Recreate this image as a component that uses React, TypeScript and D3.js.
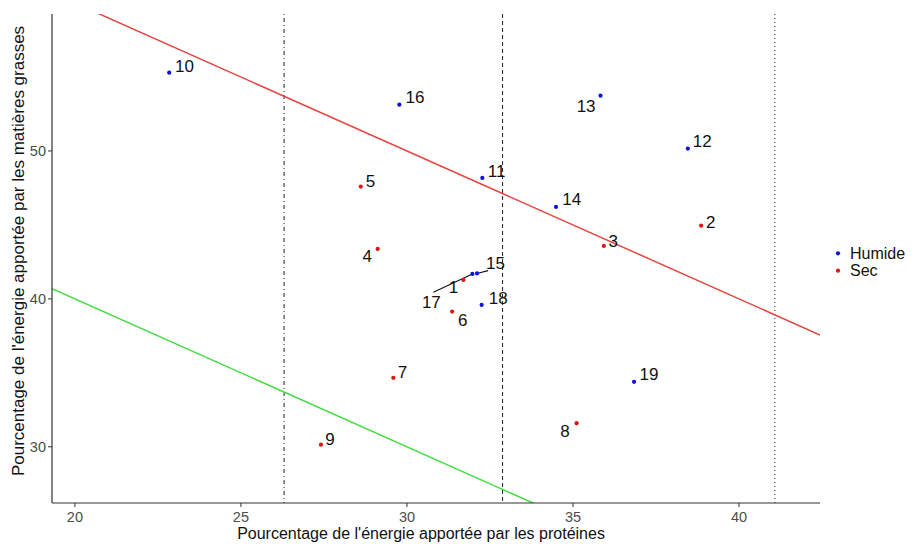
import React from 'react';
import * as d3 from 'd3';

// ---- data ----
const ids = [1, 2, 3, 4, 5, 6, 7, 8, 9, 10, 11, 12, 13, 14, 15, 16, 17, 18, 19];
const groups = ['Sec', 'Sec', 'Sec', 'Sec', 'Sec', 'Sec', 'Sec', 'Sec', 'Sec',
  'Humide', 'Humide', 'Humide', 'Humide', 'Humide', 'Humide', 'Humide', 'Humide', 'Humide', 'Humide'];
const proteines = [31.70, 38.86, 35.93, 29.12, 28.61, 31.36, 29.59, 35.11, 27.41,
  22.84, 32.27, 38.46, 35.83, 34.49, 32.11, 29.77, 31.97, 32.25, 36.84];
const matieresGrasses = [41.28, 44.95, 43.58, 43.38, 47.59, 39.14, 34.66, 31.60, 30.14,
  55.29, 48.18, 50.16, 53.74, 46.22, 41.72, 53.13, 41.69, 39.59, 34.39];

const xTicks = [20, 25, 30, 35, 40];
const yTicks = [30, 40, 50];
const xDomain = [19.31, 42.44];
const yDomain = [26.2, 59.26];

const vlineValues = [26.3, 32.88, 41.08];
const vlineTypes = ['dotdash', 'dashed', 'dotted'];
const ablineIntercepts = [80, 60];
const ablineSlopes = [-1, -1];
const ablineColors = ['#e4453f', '#44dc44'];

const legendLevels = ['Humide', 'Sec'];
const groupColors: Record<string, string> = { Humide: '#1010e0', Sec: '#e01515' };

// label placement (pixel nudges, like ggrepel result)
const labelDx = [-10, 9.5, 9.5, -10.4, 9.8, 10.7, 9.2, -11.7, 9, 15.2, 14.2, 14.3, -14.4, 15.8, 18.5, 15.7, -41, 16.6, 15];
const labelDy = [12.7, 2, 1.3, 13.3, 0.6, 14.3, 0.3, 14, 0, -0.7, -1.3, -1.4, 16, -2, -4.2, -1.4, 34.3, -0.7, -2];
const segIds = [17, 15];
const segDx = [-39, 11];
const segDy = [18.3, -2.8];

const xTitle = "Pourcentage de l'énergie apportée par les protéines";
const yTitle = "Pourcentage de l'énergie apportée par les matières grasses";

const W = 924, H = 544;
const P = { left: 52, right: 820, top: 14, bottom: 503 };
const FONT = "'Liberation Sans', Arial, sans-serif";

const dashMap: Record<string, string> = {
  dashed: '4 3',
  dotted: '1 3',
  dotdash: '1 3 4 3',
};

export default function App() {
  const x = d3.scaleLinear().domain(xDomain).range([P.left, P.right]);
  const y = d3.scaleLinear().domain(yDomain).range([P.bottom, P.top]);
  const line = d3.line<[number, number]>().x(d => x(d[0])).y(d => y(d[1]));

  return (
    <svg width={W} height={H} style={{ position: 'absolute', left: 0, top: 0, background: '#fff' }}
      fontFamily={FONT}>
      <defs>
        <clipPath id="panel">
          <rect x={P.left} y={P.top} width={P.right - P.left} height={P.bottom - P.top} />
        </clipPath>
      </defs>
      <rect width={W} height={H} fill="#fff" />

      <g clipPath="url(#panel)">
        {vlineValues.map((v, i) => (
          <line key={'v' + i} x1={x(v)} x2={x(v)} y1={P.top} y2={P.bottom}
            stroke="#222" strokeWidth={1} strokeDasharray={dashMap[vlineTypes[i]]} />
        ))}
        {ablineIntercepts.map((a, i) => {
          const pts: [number, number][] = xDomain.map(xv => [xv, a + ablineSlopes[i] * xv] as [number, number]);
          return <path key={'a' + i} d={line(pts) || ''} stroke={ablineColors[i]} strokeWidth={1.5} fill="none" />;
        })}
      </g>

      {/* axes */}
      <line x1={P.left} x2={P.left} y1={P.top} y2={P.bottom} stroke="#333" strokeWidth={1.2} />
      <line x1={P.left} x2={P.right} y1={P.bottom} y2={P.bottom} stroke="#333" strokeWidth={1.2} />
      {xTicks.map(t => (
        <g key={'xt' + t}>
          <line x1={x(t)} x2={x(t)} y1={P.bottom} y2={P.bottom + 4} stroke="#333" strokeWidth={1} />
          <text x={x(t)} y={P.bottom + 19} textAnchor="middle" fontSize={14.5} fill="#4d4d4d">{t}</text>
        </g>
      ))}
      {yTicks.map(t => (
        <g key={'yt' + t}>
          <line x1={P.left - 4} x2={P.left} y1={y(t)} y2={y(t)} stroke="#333" strokeWidth={1} />
          <text x={P.left - 6} y={y(t)} dy="0.35em" textAnchor="end" fontSize={14.5} fill="#4d4d4d">{t}</text>
        </g>
      ))}
      <text x={421} y={539} textAnchor="middle" fontSize={16} fill="#111">{xTitle}</text>
      <text transform={`translate(24,251) rotate(-90)`} textAnchor="middle"
        fontSize={17} fill="#111">{yTitle}</text>

      {/* segments */}
      {segIds.map((id, k) => {
        const i = ids.indexOf(id);
        const px = x(proteines[i]), py = y(matieresGrasses[i]);
        return <line key={'s' + id} x1={px + segDx[k]} y1={py + segDy[k]} x2={px} y2={py}
          stroke="#111" strokeWidth={1.1} />;
      })}

      {/* points */}
      {ids.map((id, i) => (
        <circle key={'p' + id} cx={x(proteines[i])} cy={y(matieresGrasses[i])} r={2.1}
          fill={groupColors[groups[i]]} />
      ))}
      {/* labels */}
      {ids.map((id, i) => (
        <text key={'l' + id} x={x(proteines[i]) + labelDx[i]} y={y(matieresGrasses[i]) + labelDy[i]}
          textAnchor="middle" fontSize={17} fill="#111">{id}</text>
      ))}

      {/* legend */}
      {legendLevels.map((lv, i) => (
        <g key={'lg' + lv}>
          <circle cx={838} cy={253.3 + i * 17.4} r={2.1} fill={groupColors[lv]} />
          <text x={850} y={253.3 + i * 17.4} dy="0.36em" fontSize={16} fill="#111">{lv}</text>
        </g>
      ))}
    </svg>
  );
}
